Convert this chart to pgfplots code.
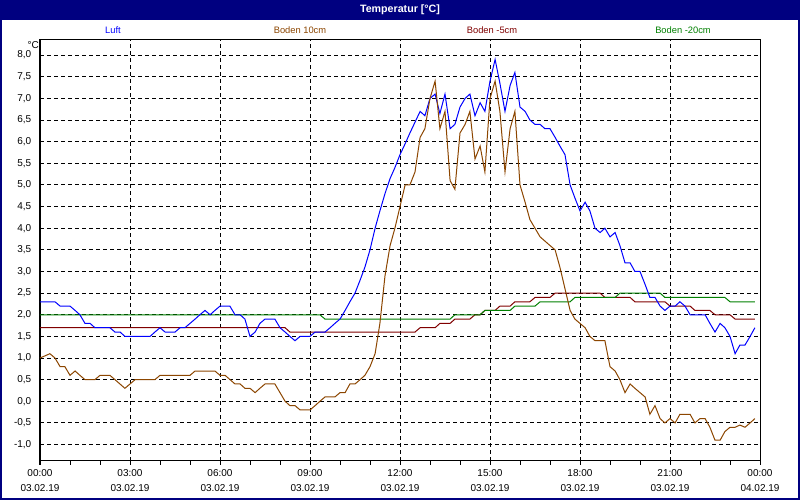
\documentclass[border=0pt]{standalone}
\usepackage{pgfplots}
\usepackage{pgfplotstable}
\pgfplotsset{compat=1.18}
\usepackage{fontspec}
\setmainfont{Liberation Sans}
\definecolor{navy}{RGB}{0,0,128}
\definecolor{cblue}{RGB}{0,0,255}
\definecolor{cbrown}{RGB}{140,70,0}
\definecolor{cred}{RGB}{128,0,0}
\definecolor{cgreen}{RGB}{0,128,0}

\pgfplotstableread{
h v
0 2.3
0.5 2.3
0.67 2.2
1.0 2.2
1.17 2.1
1.33 2.0
1.5 1.8
1.67 1.8
1.83 1.7
2.33 1.7
2.5 1.6
2.67 1.6
2.83 1.5
3.67 1.5
3.83 1.6
4.0 1.7
4.17 1.6
4.5 1.6
4.67 1.7
4.83 1.7
5.0 1.8
5.17 1.9
5.33 2.0
5.5 2.1
5.67 2.0
5.83 2.1
6.0 2.2
6.33 2.2
6.5 2.0
6.67 2.0
6.83 1.9
7.0 1.5
7.17 1.6
7.33 1.8
7.5 1.9
7.83 1.9
8.0 1.7
8.17 1.6
8.33 1.5
8.5 1.4
8.67 1.5
9.0 1.5
9.17 1.6
9.5 1.6
9.67 1.7
9.83 1.8
10.0 1.9
10.17 2.1
10.33 2.3
10.5 2.5
10.67 2.8
10.83 3.1
11.0 3.5
11.17 4.0
11.33 4.4
11.5 4.8
11.67 5.15
11.83 5.4
12.0 5.7
12.17 5.95
12.33 6.2
12.5 6.45
12.67 6.7
12.83 6.6
13.0 7.0
13.17 7.1
13.33 6.65
13.5 7.1
13.67 6.3
13.83 6.4
14.0 6.8
14.17 7.0
14.33 7.1
14.5 6.6
14.67 6.9
14.83 6.7
15.0 7.4
15.17 7.9
15.33 7.35
15.5 6.7
15.67 7.3
15.83 7.6
16.0 6.8
16.17 6.7
16.33 6.5
16.5 6.4
16.67 6.4
16.83 6.3
17.0 6.3
17.17 6.1
17.33 5.9
17.5 5.7
17.67 5.0
17.83 4.7
18.0 4.4
18.17 4.6
18.33 4.4
18.5 4.0
18.67 3.9
18.83 4.0
19.0 3.8
19.17 3.9
19.33 3.6
19.5 3.2
19.67 3.2
19.83 3.0
20.0 3.0
20.17 2.7
20.33 2.4
20.5 2.4
20.67 2.2
20.83 2.1
21.0 2.2
21.17 2.2
21.33 2.3
21.5 2.2
21.67 2.0
21.83 2.0
22.0 2.0
22.17 2.0
22.33 1.8
22.5 1.6
22.67 1.8
22.83 1.7
23.0 1.5
23.17 1.1
23.33 1.3
23.5 1.3
23.67 1.5
23.83 1.7
}\luft

\pgfplotstableread{
h v
0 1.0
0.33 1.1
0.5 1.0
0.67 0.8
0.83 0.8
1.0 0.6
1.17 0.7
1.33 0.6
1.5 0.5
1.83 0.5
2.0 0.6
2.33 0.6
2.5 0.5
2.83 0.3
3.0 0.4
3.17 0.5
3.83 0.5
4.0 0.6
5.0 0.6
5.17 0.7
5.83 0.7
6.0 0.6
6.17 0.6
6.5 0.4
6.67 0.4
6.83 0.3
7.0 0.3
7.17 0.2
7.33 0.3
7.5 0.4
7.83 0.4
8.0 0.2
8.17 0.0
8.33 -0.1
8.5 -0.1
8.67 -0.2
9.0 -0.2
9.17 -0.1
9.33 0.0
9.5 0.1
9.83 0.1
10.0 0.2
10.17 0.2
10.33 0.4
10.5 0.4
10.67 0.5
10.83 0.6
11.0 0.8
11.17 1.1
11.33 1.8
11.5 2.9
11.67 3.6
11.83 4.0
12.0 4.5
12.17 5.0
12.33 5.0
12.5 5.3
12.67 6.1
12.83 6.3
13.0 7.0
13.17 7.4
13.33 6.3
13.5 6.7
13.67 5.1
13.83 4.9
14.0 6.2
14.17 6.4
14.33 6.7
14.5 5.6
14.67 5.9
14.83 5.3
15.0 7.0
15.17 7.4
15.33 6.7
15.5 5.3
15.67 6.3
15.83 6.7
16.0 5.0
16.17 4.6
16.33 4.2
16.5 4.0
16.67 3.8
17.0 3.6
17.17 3.5
17.33 3.1
17.5 2.6
17.67 2.1
17.83 1.9
18.0 1.8
18.17 1.7
18.33 1.5
18.5 1.4
18.83 1.4
19.0 0.8
19.17 0.7
19.33 0.5
19.5 0.2
19.67 0.4
19.83 0.3
20.0 0.2
20.17 0.1
20.33 -0.3
20.5 -0.1
20.67 -0.4
20.83 -0.5
21.0 -0.4
21.17 -0.5
21.33 -0.3
21.67 -0.3
21.83 -0.5
22.0 -0.4
22.17 -0.4
22.33 -0.6
22.5 -0.9
22.67 -0.9
22.83 -0.7
23.0 -0.6
23.17 -0.6
23.33 -0.55
23.5 -0.6
23.67 -0.5
23.83 -0.4
}\bodenzehn

\pgfplotstableread{
h v
0 1.7
8.17 1.7
8.33 1.6
12.5 1.6
12.67 1.7
13.17 1.7
13.33 1.8
13.67 1.8
13.83 1.9
14.33 1.9
14.5 2.0
14.67 2.0
14.83 2.1
15.17 2.1
15.33 2.2
15.67 2.2
15.83 2.3
16.33 2.3
16.5 2.4
17.0 2.4
17.17 2.5
18.67 2.5
18.83 2.4
19.67 2.4
19.83 2.3
20.83 2.3
21.0 2.2
21.67 2.2
21.83 2.1
22.33 2.1
22.5 2.0
23.0 2.0
23.17 1.9
23.83 1.9
}\bodenfuenf

\pgfplotstableread{
h v
0 2.0
9.33 2.0
9.5 1.9
13.67 1.9
13.83 2.0
14.67 2.0
14.83 2.1
15.67 2.1
15.83 2.2
16.5 2.2
16.67 2.3
17.67 2.3
17.83 2.4
19.17 2.4
19.33 2.5
20.67 2.5
20.83 2.4
22.83 2.4
23.0 2.3
23.83 2.3
}\bodenzwanzig

\begin{document}
\begin{tikzpicture}[x=0.75pt,y=0.75pt]
\fill[navy] (0,0) rectangle (800,500);
\fill[white] (2,2) rectangle (798,480);
\node[white,font=\bfseries\fontsize{8}{9}\selectfont] at (400,490) {Temperatur [°C]};
\node[cblue,font=\fontsize{7}{8}\selectfont] at (113,470) {Luft};
\node[cbrown,font=\fontsize{7}{8}\selectfont] at (300,470) {Boden 10cm};
\node[cred,font=\fontsize{7}{8}\selectfont] at (492,470) {Boden -5cm};
\node[cgreen,font=\fontsize{7}{8}\selectfont] at (683,470) {Boden -20cm};
\node[anchor=east,inner sep=0pt,font=\fontsize{7.5}{9}\selectfont] at (39,455) {°C};
\begin{axis}[
  at={(30pt,29.25pt)}, anchor=south west,
  scale only axis, width=540pt, height=315.75pt,
  xmin=0, xmax=24, ymin=-1.38, ymax=8.35,
  xtick={0,3,...,24},
  minor xtick={1,2,4,5,7,8,10,11,13,14,16,17,19,20,22,23},
  xticklabels={{00:00\\03.02.19},{03:00\\03.02.19},{06:00\\03.02.19},{09:00\\03.02.19},{12:00\\03.02.19},{15:00\\03.02.19},{18:00\\03.02.19},{21:00\\03.02.19},{00:00\\04.02.19}},
  xticklabel style={align=center, font=\fontsize{7.5}{11.25}\selectfont},
  ytick={-1,-0.5,...,8},
  yticklabel style={font=\fontsize{7.5}{9}\selectfont, /pgf/number format/.cd, fixed, fixed zerofill, precision=1, use comma},
  /pgf/number format/assume math mode=true,
  xmajorgrids, ymajorgrids,
  major grid style={black, line width=0.75pt, dash pattern=on 3pt off 2.25pt},
  tick align=outside, xtick pos=bottom, ytick pos=left,
  ytick style={draw=none},
  xtick style={black, line width=0.75pt},
  major tick length=3pt, minor tick length=3pt,
  axis line style={line width=0.75pt},
  every axis plot/.append style={line width=0.75pt, no markers},
]
\addplot[cred] table[x=h,y=v] {\bodenfuenf};
\addplot[cgreen] table[x=h,y=v] {\bodenzwanzig};
\addplot[cblue] table[x=h,y=v] {\luft};
\addplot[cbrown] table[x=h,y=v] {\bodenzehn};
\end{axis}
\end{tikzpicture}
\end{document}
